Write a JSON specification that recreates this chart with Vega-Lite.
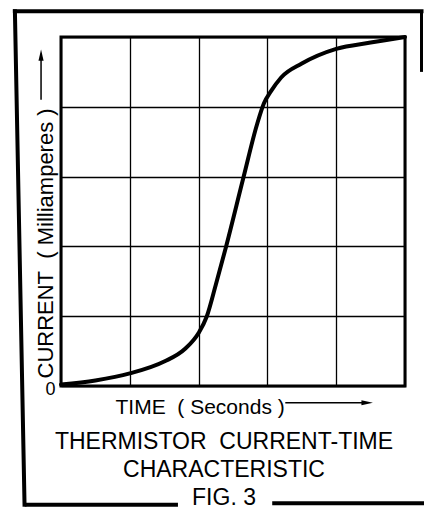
{
  "$schema": "https://vega.github.io/schema/vega-lite/v6.json",
  "width": 344,
  "height": 349,
  "autosize": {"type": "none"},
  "padding": {"left": 61, "top": 37, "right": 19, "bottom": 122},
  "background": "white",
  "title": {
    "text": ["THERMISTOR\u00a0\u00a0CURRENT-TIME", "CHARACTERISTIC", "FIG.\u00a03"],
    "orient": "bottom",
    "anchor": "middle",
    "frame": "group",
    "offset": -76,
    "dx": -9,
    "font": "Liberation Sans",
    "fontSize": 23,
    "fontWeight": "normal",
    "color": "black",
    "lineHeight": 28
  },
  "config": {
    "font": "Liberation Sans",
    "view": {"stroke": "black", "strokeWidth": 3},
    "axis": {
      "domain": false,
      "ticks": false,
      "grid": true,
      "gridColor": "black",
      "gridOpacity": 1,
      "gridWidth": 1.3,
      "titleFont": "Liberation Sans",
      "titleFontWeight": "normal",
      "titleColor": "black",
      "titleFontSize": 21,
      "labelColor": "black",
      "labelFont": "Liberation Sans"
    }
  },
  "data": {
    "values": [
      {"time": 0.0, "current": 0.02},
      {"time": 0.5, "current": 0.08},
      {"time": 1.0, "current": 0.18},
      {"time": 1.5, "current": 0.35},
      {"time": 1.8, "current": 0.53},
      {"time": 2.0, "current": 0.76},
      {"time": 2.12, "current": 1.0},
      {"time": 2.25, "current": 1.45},
      {"time": 2.4, "current": 2.0},
      {"time": 2.65, "current": 2.98},
      {"time": 2.85, "current": 3.75},
      {"time": 2.95, "current": 4.05},
      {"time": 3.05, "current": 4.22},
      {"time": 3.2, "current": 4.42},
      {"time": 3.5, "current": 4.62},
      {"time": 4.0, "current": 4.83},
      {"time": 4.5, "current": 4.92},
      {"time": 5.0, "current": 5.0}
    ]
  },
  "layer": [
    {
      "mark": {"type": "line", "interpolate": "monotone", "color": "black", "strokeWidth": 4, "strokeCap": "round"},
      "encoding": {
        "x": {
          "field": "time", "type": "quantitative",
          "scale": {"domain": [0, 5], "nice": false},
          "axis": {
            "values": [0, 1, 2, 3, 4, 5],
            "labels": false,
            "title": "TIME\u00a0\u00a0( Seconds )",
            "titleAnchor": "start",
            "titleAlign": "left",
            "titleBaseline": "alphabetic",
            "titleX": 54,
            "titleY": 27
          }
        },
        "y": {
          "field": "current", "type": "quantitative",
          "scale": {"domain": [0, 5], "nice": false},
          "axis": {
            "values": [0, 1, 2, 3, 4, 5],
            "labelExpr": "datum.value == 0 ? '0' : ''",
            "labelFontSize": 18,
            "labelPadding": 6,
            "labelOffset": 3,
            "title": "CURRENT\u00a0\u00a0(\u00a0Milliamperes\u00a0)",
            "titleFontSize": 22,
            "titleAngle": 270,
            "titleAlign": "left",
            "titleBaseline": "alphabetic",
            "titleX": -9,
            "titleY": 341
          }
        }
      }
    },
    {
      "data": {"values": [{}]},
      "mark": {"type": "rule", "color": "black", "strokeWidth": 1.5},
      "encoding": {
        "x": {"datum": 3.26, "type": "quantitative"},
        "x2": {"datum": 4.45},
        "y": {"datum": -0.24, "type": "quantitative"}
      }
    },
    {
      "data": {"values": [{}]},
      "mark": {"type": "point", "shape": "M -1 -0.45 L 1 0 L -1 0.45 Z", "filled": true, "color": "black", "opacity": 1, "size": 130},
      "encoding": {
        "x": {"datum": 4.45, "type": "quantitative"},
        "y": {"datum": -0.24, "type": "quantitative"}
      }
    },
    {
      "data": {"values": [{}]},
      "mark": {"type": "rule", "color": "black", "strokeWidth": 1.5},
      "encoding": {
        "x": {"datum": -0.29, "type": "quantitative"},
        "y": {"datum": 4.1, "type": "quantitative"},
        "y2": {"datum": 4.74}
      }
    },
    {
      "data": {"values": [{}]},
      "mark": {"type": "point", "shape": "M -0.45 1 L 0 -1 L 0.45 1 Z", "filled": true, "color": "black", "opacity": 1, "size": 130},
      "encoding": {
        "x": {"datum": -0.29, "type": "quantitative"},
        "y": {"datum": 4.74, "type": "quantitative"}
      }
    },
    {
      "data": {"values": [{}]},
      "mark": {"type": "rule", "color": "black", "strokeWidth": 4, "strokeCap": "square"},
      "encoding": {
        "x": {"datum": -0.67, "type": "quantitative"},
        "x2": {"datum": 5.24},
        "y": {"datum": 5.37, "type": "quantitative"}
      }
    },
    {
      "data": {"values": [{}]},
      "mark": {"type": "rule", "color": "black", "strokeWidth": 3},
      "encoding": {
        "x": {"datum": 5.24, "type": "quantitative"},
        "y": {"datum": 5.37, "type": "quantitative"},
        "y2": {"datum": 4.5}
      }
    },
    {
      "data": {"values": [{}]},
      "mark": {"type": "rule", "color": "black", "strokeWidth": 4, "strokeCap": "square"},
      "encoding": {
        "x": {"datum": -0.67, "type": "quantitative"},
        "x2": {"datum": -0.53},
        "y": {"datum": 5.37, "type": "quantitative"},
        "y2": {"datum": -1.7}
      }
    },
    {
      "data": {"values": [{}]},
      "mark": {"type": "rule", "color": "black", "strokeWidth": 4},
      "encoding": {
        "x": {"datum": -0.53, "type": "quantitative"},
        "x2": {"datum": 1.7},
        "y": {"datum": -1.7, "type": "quantitative"}
      }
    },
    {
      "data": {"values": [{}]},
      "mark": {"type": "rule", "color": "black", "strokeWidth": 4},
      "encoding": {
        "x": {"datum": 3.07, "type": "quantitative"},
        "x2": {"datum": 5.3},
        "y": {"datum": -1.68, "type": "quantitative"}
      }
    }
  ]
}
